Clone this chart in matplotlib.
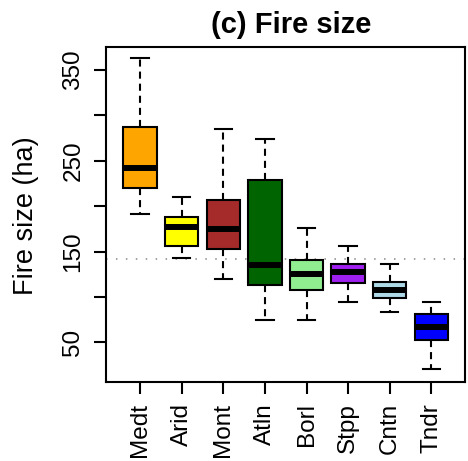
import matplotlib.pyplot as plt

biomes = ['Medt', 'Arid', 'Mont', 'Atln', 'Borl', 'Stpp', 'Cntn', 'Tndr']
colors = ['#FFA500', '#FFFF00', '#A52A2A', '#006400', '#90EE90', '#A020F0', '#ADD8E6', '#0000FF']

# five-number summaries of fire size (ha) per biome
whis_lo = [191.3, 142.5, 119.4, 74.6, 74.6, 94.0, 83.0, 20.3]
q1 = [220.3, 156.4, 152.5, 112.8, 107.6, 115.7, 99.2, 52.5]
med = [241.7, 177.0, 174.8, 135.2, 125.2, 127.8, 107.6, 66.5]
q3 = [287.5, 187.7, 206.8, 228.8, 140.7, 135.9, 116.8, 81.2]
whis_hi = [362.9, 209.7, 285.3, 274.0, 176.3, 156.4, 136.3, 94.0]
overall = 141.4

stats = []
for i in range(len(biomes)):
    stats.append({'whislo': whis_lo[i], 'q1': q1[i], 'med': med[i],
                  'q3': q3[i], 'whishi': whis_hi[i], 'label': biomes[i]})

plt.rcParams['font.family'] = ['Liberation Sans', 'DejaVu Sans']

fig = plt.figure(figsize=(4.68, 4.61), dpi=100)
ax = fig.add_axes([0.2265, 0.172, 0.768, 0.7267])

bp = ax.bxp(stats, positions=range(1, 9), widths=0.8, patch_artist=True,
            showfliers=False,
            boxprops=dict(linewidth=1.5, edgecolor='black'),
            medianprops=dict(color='black', linewidth=4.3, solid_capstyle='butt'),
            whiskerprops=dict(color='black', linewidth=1.5, linestyle=(0, (3.4, 2.4))),
            capprops=dict(color='black', linewidth=1.5),
            capwidths=0.42)
for patch, c in zip(bp['boxes'], colors):
    patch.set_facecolor(c)

ax.axhline(overall, color='#888888', linestyle=(0, (1, 5.5)), linewidth=1.1, zorder=0)

ax.set_xlim(0.18, 8.82)
ax.set_ylim(6.6, 375.7)
ax.set_yticks([50, 100, 150, 200, 250, 300, 350])
ax.set_yticklabels(['50', '', '150', '', '250', '', '350'], rotation=90, va='center')
ax.set_xticks(range(1, 9))
ax.set_xticklabels(biomes, rotation=90)
ax.tick_params(axis='both', labelsize=17.5, length=8.5, width=1.5, pad=7)
ax.set_ylabel('Fire size (ha)', fontsize=19.5)
ax.yaxis.set_label_coords(-0.186, 0.495)
ax.set_title('(c) Fire size', fontsize=21, fontweight='bold', pad=10, x=0.515)
for s in ax.spines.values():
    s.set_linewidth(1.5)

fig.savefig('out.png', dpi=100)
